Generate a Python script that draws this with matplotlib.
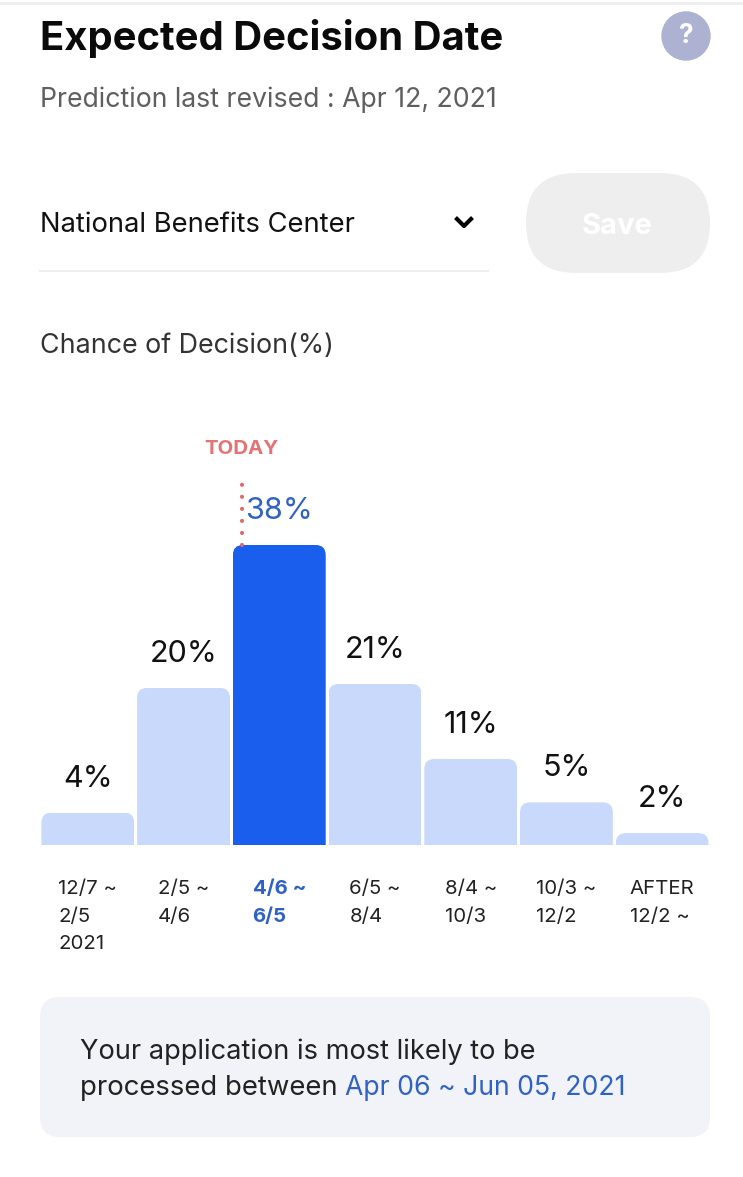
import matplotlib
matplotlib.use("Agg")
import matplotlib.pyplot as plt
from matplotlib.patches import FancyBboxPatch, Circle

plt.rcParams['font.family'] = ['Inter', 'DejaVu Sans']

# chart values
ranges = ['12/7 ~\n2/5\n2021', '2/5 ~\n4/6', '4/6 ~\n6/5', '6/5 ~\n8/4', '8/4 ~\n10/3', '10/3 ~\n12/2', 'AFTER\n12/2 ~']
percent_labels = ['4%', '20%', '38%', '21%', '11%', '5%', '2%']
bar_heights = [4.1, 19.9, 38.0, 20.4, 10.9, 5.4, 1.5]
current = 2

LIGHT = '#C9D9FB'
DARK = '#1A5EEE'
BLUE_TEXT = '#2F62C4'
RED = '#E57373'
INK = '#111111'

fig = plt.figure(figsize=(7.43, 11.77), dpi=100, facecolor='white')

# page furniture, in pixel coordinates
page = fig.add_axes([0, 0, 1, 1])
page.set_xlim(0, 743)
page.set_ylim(1177, 0)
page.axis('off')

page.plot([0, 743], [3, 3], color='#EEEEEE', lw=2)
page.text(40, 38, 'Expected Decision Date', fontsize=28.8, fontweight='bold', color='#0A0A0A', va='center')
page.add_patch(Circle((686, 36), 24, color='#ADB2D3'))
page.text(686, 36, '?', fontsize=19, fontweight='bold', color='white', ha='center', va='center')
page.text(40, 100, 'Prediction last revised : Apr 12, 2021', fontsize=19.2, color='#5F5F5F', va='center')

page.text(40, 225, 'National Benefits Center', fontsize=19.7, color=INK, va='center')
page.plot([457, 464, 471], [219, 226, 219], color='black', lw=3)
page.plot([40, 488], [271, 271], color='#EEEEEE', lw=1.5)
page.add_patch(FancyBboxPatch((526 + 50, 173 + 50), 184 - 100, 0, boxstyle='round,pad=50,rounding_size=50',
                              fc='#EEEEEE', ec='none'))
page.text(617, 226, 'Save', fontsize=21, fontweight='bold', color='white', ha='center', va='center')
page.text(40, 346, 'Chance of Decision(%)', fontsize=19.3, color='#333333', va='center')

page.add_patch(FancyBboxPatch((40 + 20, 997 + 20), 670 - 40, 140 - 40, boxstyle='round,pad=20,rounding_size=20',
                              fc='#F1F3F9', ec='none'))
page.text(80, 1052, 'Your application is most likely to be', fontsize=19.6, color='#222222', va='center')
page.text(80, 1088, 'processed between', fontsize=19.8, color='#222222', va='center')
page.text(345, 1088, 'Apr 06 ~ Jun 05, 2021', fontsize=19.2, color=BLUE_TEXT, va='center')

# bar chart
px_per_unit = 300 / 38
ax = fig.add_axes([40 / 743, 1 - 845 / 1177, 670 / 743, (845 - 430) / 1177])
ax.patch.set_alpha(0)
ax.set_xlim(-0.5, 6.5)
ax.set_ylim(0, (845 - 430) / px_per_unit)
for s in ax.spines.values():
    s.set_visible(False)
ax.yaxis.set_visible(False)

colors = [DARK if i == current else LIGHT for i in range(len(bar_heights))]
bars = ax.bar(range(len(bar_heights)), bar_heights, width=0.97, color=colors)

# round the top corners of each bar
x_unit = 670 / 7
for b in bars:
    r = 0.105
    clip = FancyBboxPatch((b.get_x() + r, -5), b.get_width() - 2 * r, b.get_height() + 5 - r * x_unit / px_per_unit,
                          boxstyle='round,pad=%f,rounding_size=%f' % (r, r), mutation_aspect=x_unit / px_per_unit,
                          transform=ax.transData)
    b.set_clip_path(clip)

for i, (h, label) in enumerate(zip(bar_heights, percent_labels)):
    ax.annotate(label, (i, h), xytext=(0, 34 * 0.72), textcoords='offset points', ha='center', va='center',
                fontsize=22, color=BLUE_TEXT if i == current else INK)

ax.set_xticks(range(len(ranges)))
ax.set_xticklabels(ranges, multialignment='left', linespacing=1.66, fontsize=14.7, color='#222222', va='top')
ax.tick_params(axis='x', length=0, pad=35.5 * 0.72)
cur = ax.get_xticklabels()[current]
cur.set_color(BLUE_TEXT)
cur.set_fontweight('bold')

# today marker
today_x = current - 37.5 / x_unit
ax.plot([today_x, today_x], [38, 46], color='#E0686E', lw=3, linestyle=(0, (0.01, 2.88)), dash_capstyle='round')
ax.text(today_x, (845 - 449) / px_per_unit, 'TODAY', color=RED, fontsize=14.7, fontweight='bold', ha='center', va='center')

fig.savefig('out.png', dpi=100)
